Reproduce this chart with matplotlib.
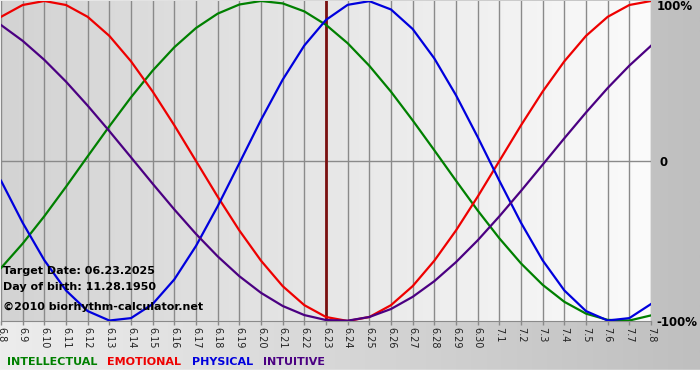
import numpy as np
import matplotlib
matplotlib.use("Agg")
import matplotlib.pyplot as plt
from matplotlib.colors import LinearSegmentedColormap

# day labels, 6.8 .. 7.8
days = ["6.8", "6.9", "6.10", "6.11", "6.12", "6.13", "6.14", "6.15", "6.16", "6.17",
        "6.18", "6.19", "6.20", "6.21", "6.22", "6.23", "6.24", "6.25", "6.26", "6.27",
        "6.28", "6.29", "6.30", "7.1", "7.2", "7.3", "7.4", "7.5", "7.6", "7.7", "7.8"]
target_idx = 15

# cycle values (-1 .. 1)
intellectual = [-0.669, -0.516, -0.345, -0.161, 0.029, 0.217, 0.398, 0.565, 0.711, 0.831,
                0.921, 0.978, 1.000, 0.985, 0.935, 0.851, 0.736, 0.595, 0.433, 0.254,
                0.067, -0.123, -0.309, -0.483, -0.640, -0.774, -0.880, -0.954, -0.993, -0.997,
                -0.965]
emotional = [0.901, 0.975, 1.000, 0.975, 0.901, 0.782, 0.623, 0.434, 0.223, 0.000,
             -0.223, -0.434, -0.623, -0.782, -0.901, -0.975, -1.000, -0.975, -0.901, -0.782,
             -0.623, -0.434, -0.223, 0.000, 0.223, 0.434, 0.623, 0.782, 0.901, 0.975,
             1.000]
physical = [-0.123, -0.386, -0.620, -0.809, -0.938, -0.997, -0.982, -0.894, -0.740, -0.531,
            -0.283, -0.014, 0.257, 0.508, 0.722, 0.882, 0.976, 0.999, 0.947, 0.825,
            0.641, 0.411, 0.150, -0.123, -0.386, -0.621, -0.809, -0.938, -0.997, -0.982,
            -0.894]
intuitive = [0.850, 0.751, 0.632, 0.496, 0.346, 0.187, 0.023, -0.142, -0.303, -0.456,
             -0.596, -0.720, -0.824, -0.906, -0.963, -0.994, -0.998, -0.975, -0.925, -0.849,
             -0.751, -0.632, -0.496, -0.346, -0.187, -0.023, 0.142, 0.303, 0.456, 0.596,
             0.720]

W, H = 700, 380
fig = plt.figure(figsize=(7, 3.8), dpi=100)

# background of the whole picture
bg = fig.add_axes([0, 0, 1, 1])
bg_cmap = LinearSegmentedColormap.from_list("bg", ["#ededed", "#bfbfbf"])
bg.imshow(np.linspace(0, 1, 256).reshape(1, -1), aspect="auto", cmap=bg_cmap,
          extent=[0, W, 0, H])
bg.axhspan(0, 10, color="white")
bg.set_xlim(0, W)
bg.set_ylim(0, H)
bg.axis("off")

# plot area
left, right, top, bottom = 1, 651, 1, 321
ax = fig.add_axes([left / W, 1 - bottom / H, (right - left) / W, (bottom - top) / H])
x = np.arange(len(days))
ax_cmap = LinearSegmentedColormap.from_list("plotbg", ["#d3d3d3", "#fbfbfb"])
ax.imshow(np.linspace(0, 1, 256).reshape(1, -1), aspect="auto", cmap=ax_cmap,
          extent=[0, len(days) - 1, -1, 1], zorder=0)

for xi in x:
    ax.axvline(xi, color="#8a8a8a", lw=1, zorder=1)
ax.axhline(0, color="#8a8a8a", lw=1, zorder=1)
ax.axvline(target_idx, color="#7a1010", lw=2, zorder=2)

ax.plot(x, intellectual, color="#008000", lw=1.6, zorder=3)
ax.plot(x, emotional, color="#ee0000", lw=1.6, zorder=3)
ax.plot(x, physical, color="#0000dd", lw=1.6, zorder=3)
ax.plot(x, intuitive, color="#4b0082", lw=1.6, zorder=3)

ax.set_xlim(0, len(days) - 1)
ax.set_ylim(-1, 1)
ax.set_xticks(x)
ax.set_xticklabels(days, rotation=-90, fontsize=7, color="#222222")
ax.tick_params(axis="x", length=3, width=1, color="#8a8a8a", pad=1)
ax.set_yticks([])
for s in ["top", "left", "right"]:
    ax.spines[s].set_visible(False)
ax.spines["bottom"].set_color("#8a8a8a")

# y labels on the right
fig.text(657 / W, 1 - 7 / H, "100%", fontsize=8.5, fontweight="bold", va="center")
fig.text(660 / W, 1 - 162 / H, "0", fontsize=8.5, fontweight="bold", va="center")
fig.text(656 / W, 1 - 322 / H, "-100%", fontsize=8.5, fontweight="bold", va="center")

# info text
fig.text(3 / W, 1 - 271 / H, "Target Date: 06.23.2025", fontsize=8, fontweight="bold", va="center")
fig.text(3 / W, 1 - 287 / H, "Day of birth: 11.28.1950", fontsize=8, fontweight="bold", va="center")
fig.text(3 / W, 1 - 307 / H, "\u00a92010 biorhythm-calculator.net", fontsize=8, fontweight="bold", va="center")

# legend
fig.text(7 / W, 1 - 362 / H, "INTELLECTUAL", fontsize=8, fontweight="bold", color="#008000", va="center")
fig.text(107 / W, 1 - 362 / H, "EMOTIONAL", fontsize=8, fontweight="bold", color="#ee0000", va="center")
fig.text(192 / W, 1 - 362 / H, "PHYSICAL", fontsize=8, fontweight="bold", color="#0000dd", va="center")
fig.text(263 / W, 1 - 362 / H, "INTUITIVE", fontsize=8, fontweight="bold", color="#4b0082", va="center")

fig.savefig("out.png", dpi=100)
